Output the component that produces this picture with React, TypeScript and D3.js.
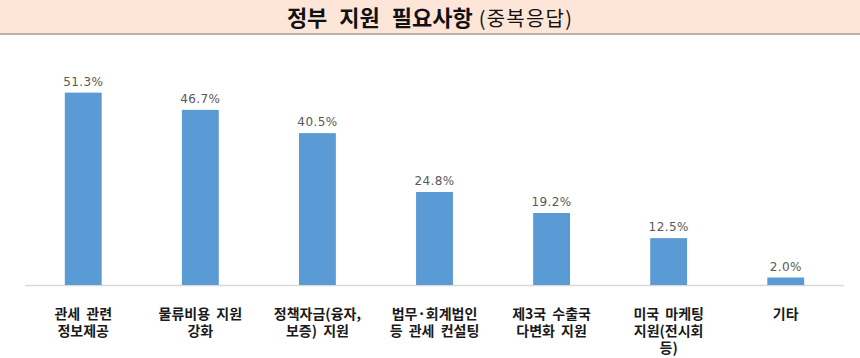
import React from "react";
import * as d3 from "d3";

const categories: string[][] = [
  ["관세 관련", "정보제공"],
  ["물류비용 지원", "강화"],
  ["정책자금(융자,", "보증) 지원"],
  ["법무·회계법인", "등 관세 컨설팅"],
  ["제3국 수출국", "다변화 지원"],
  ["미국 마케팅", "지원(전시회", "등)"],
  ["기타"],
];
const values: number[] = [51.3, 46.7, 40.5, 24.8, 19.2, 12.5, 2.0];
const valueLabels: string[] = ["51.3%", "46.7%", "40.5%", "24.8%", "19.2%", "12.5%", "2.0%"];
const titleMain = "정부 지원 필요사항";
const titleSub = "(중복응답)";

const W = 860;
const H = 358;
const font = "'Noto Sans CJK KR', 'Noto Sans', sans-serif";

export default function App() {
  const x = d3
    .scaleBand<number>()
    .domain(values.map((_, i) => i))
    .range([25, 844])
    .paddingInner(0.685)
    .paddingOuter(0.34);
  const y = d3.scaleLinear().domain([0, 60]).range([285, 60]);
  const bw = x.bandwidth();

  return (
    <svg
      width={W}
      height={H}
      style={{ position: "absolute", left: 0, top: 0, background: "#fff" }}
      fontFamily={font}
    >
      <rect x={0} y={0} width={W} height={33} fill="#fde6d8" />
      <rect x={0} y={33} width={W} height={2} fill="#b9b2ad" />
      <text x={430} y={26} textAnchor="middle" fill="#111">
        <tspan fontSize={22} fontWeight={700} wordSpacing={7}>{titleMain}</tspan>
        <tspan fontSize={20} fontWeight={400} dx={6} letterSpacing={1.2}>{titleSub}</tspan>
      </text>

      <line x1={25} x2={844} y1={285.5} y2={285.5} stroke="#d9d9d9" strokeWidth={1.5} />

      {values.map((v, i) => {
        const bx = x(i)!;
        const cx = bx + bw / 2;
        return (
          <g key={i}>
            <rect x={bx} y={y(v)} width={bw} height={y(0) - y(v)} fill="#5b9bd5" />
            <text
              x={cx}
              y={y(v) - 7}
              textAnchor="middle"
              fontSize={12}
              fill="#595959"
              fontFamily="'DejaVu Sans', sans-serif"
              letterSpacing={0.4}
            >
              {valueLabels[i]}
            </text>
            <text
              textAnchor="middle"
              fontSize={14}
              fontWeight={700}
              fill="#1a1a1a"
              wordSpacing={3}
            >
              {categories[i].map((line, j) => (
                <tspan key={j} x={cx} y={319 + j * 17}>
                  {line}
                </tspan>
              ))}
            </text>
          </g>
        );
      })}
    </svg>
  );
}
